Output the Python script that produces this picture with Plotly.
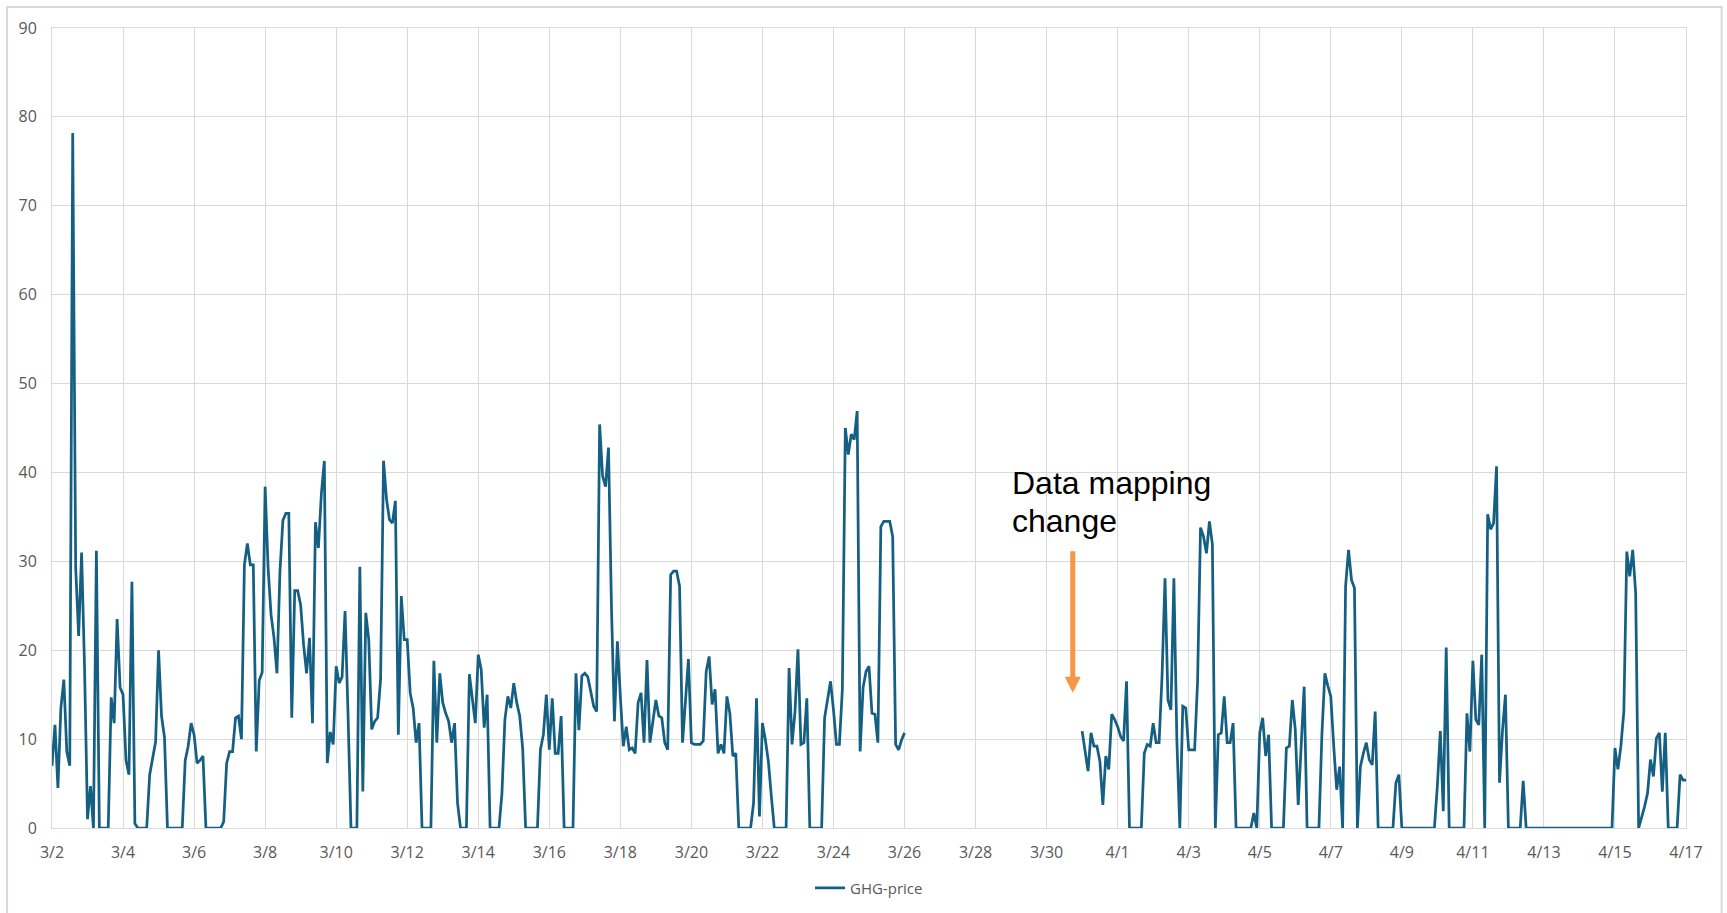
import pandas as pd
import plotly.graph_objects as go

# GHG price, one value every 2 hours
mar02 = [7, 11.6, 4.5, 13.5, 16.7, 8.6, 7, 78.2, 29.3, 21.6, 31, 18]
mar03 = [1, 4.7, 0, 31.2, 0, 0, 0, 0, 14.7, 11.8, 23.5, 15.8]
mar04 = [15, 7.6, 6, 27.7, 0.5, 0, 0, 0, 0, 6, 8, 9.7]
mar05 = [20, 12.6, 10.2, 0, 0, 0, 0, 0, 0, 7.6, 9.2, 11.8]
mar06 = [10.5, 7.3, 7.6, 8.1, 0, 0, 0, 0, 0, 0, 0.7, 7.3]
mar07 = [8.6, 8.6, 12.4, 12.6, 10, 29.6, 32, 29.6, 29.6, 8.6, 16.6, 17.5]
mar08 = [38.4, 29.3, 24, 21.4, 17.4, 28.8, 34.6, 35.4, 35.4, 12.4, 26.7, 26.7]
mar09 = [25.1, 20.6, 17.4, 21.4, 11.8, 34.4, 31.5, 37.6, 41.3, 7.3, 10.8, 9.4]
mar10 = [18.2, 16.3, 17, 24.4, 12.9, 0, 0, 0, 29.4, 4.1, 24.2, 21.2]
mar11 = [11.1, 12, 12.4, 16.7, 41.3, 37, 34.7, 34.3, 36.8, 10.5, 26.1, 21.2]
mar12 = [21.2, 15.2, 13.5, 9.6, 11.8, 0, 0, 0, 0, 18.8, 9.6, 17.4]
mar13 = [14.1, 12.9, 12, 9.6, 11.8, 2.8, 0, 0, 0, 17.3, 14.4, 11.8]
mar14 = [19.5, 17.8, 11.3, 15, 0, 0, 0, 0, 3.9, 12.2, 14.8, 13.5]
mar15 = [16.3, 14.1, 12.6, 9, 0, 0, 0, 0, 0, 8.8, 10.5, 15]
mar16 = [8.8, 14.6, 8.4, 8.4, 12.6, 0, 0, 0, 0, 17.4, 11, 17.1]
mar17 = [17.4, 17, 15.4, 13.7, 13.1, 45.4, 39.6, 38.4, 42.8, 24.8, 12, 21]
mar18 = [14.8, 9.2, 11.4, 8.8, 9, 8.4, 14.1, 15.2, 9.6, 18.9, 9.6, 12.2]
mar19 = [14.4, 12.6, 12.4, 9.6, 8.8, 28.5, 28.9, 28.9, 27.2, 9.6, 13.9, 19]
mar20 = [9.6, 9.4, 9.4, 9.4, 9.8, 17.6, 19.3, 13.9, 15.6, 8.4, 9.4, 8.4]
mar21 = [14.8, 12.9, 8.1, 8.4, 0, 0, 0, 0, 0, 2.8, 14.6, 1.3]
mar22 = [11.8, 9.9, 7.5, 3.6, 0, 0, 0, 0, 0, 18, 9.4, 13.1]
mar23 = [20.1, 9.4, 9.6, 14.6, 0, 0, 0, 0, 0, 12.4, 14.3, 16.5]
mar24 = [13.3, 9.4, 9.4, 15.6, 45, 42, 44.3, 43.7, 46.9, 8.6, 15.8, 17.6]
mar25 = [18.2, 12.9, 12.8, 9.6, 33.9, 34.5, 34.5, 34.5, 32.8, 9.4, 8.8, 9.9, 10.7]  # last one is 3/26 00:00

mar31 = [10.9, 8.6, 6.4, 10.7, 9.2, 9.2, 7.5, 2.6, 8.1, 6.6, 12.8, 12.2]
apr01 = [11.4, 10.3, 9.8, 16.5, 0, 0, 0, 0, 0, 8.4, 9.4, 9.2]
apr02 = [11.8, 9.6, 9.6, 17.1, 28.1, 14.4, 13.3, 28.1, 9.9, 0, 13.7, 13.5]
apr03 = [8.8, 8.8, 8.8, 16.5, 33.8, 32.8, 30.9, 34.5, 31.9, 0, 10.5, 10.7]
apr04 = [14.8, 9.6, 9.6, 11.8, 0, 0, 0, 0, 0, 0, 1.7, 0]
apr05 = [10.7, 12.4, 8.1, 10.5, 0, 0, 0, 0, 0, 9, 9.2, 14.4]
apr06 = [11.1, 2.6, 9.6, 15.9, 0, 0, 0, 0, 0, 10.5, 17.4, 16]
apr07 = [14.8, 9.2, 4.3, 6.9, 0, 27.2, 31.3, 27.9, 27, 0, 6.9, 8.4]
apr08 = [9.6, 7.7, 7.1, 13.1, 0, 0, 0, 0, 0, 0, 5.1, 6]
apr09 = [0, 0, 0, 0, 0, 0, 0, 0, 0, 0, 0, 0]
apr10 = [4.7, 10.9, 1.9, 20.3, 0, 0, 0, 0, 0, 0, 12.9, 8.6]
apr11 = [18.8, 12.2, 11.6, 19.5, 0, 35.3, 33.6, 34.3, 40.7, 5.1, 10.9, 15]
apr12 = [0, 0, 0, 0, 0, 5.3, 0, 0, 0, 0, 0, 0]
apr13 = [0, 0, 0, 0, 0, 0, 0, 0, 0, 0, 0, 0]
apr14 = [0, 0, 0, 0, 0, 0, 0, 0, 0, 0, 0, 0]
apr15 = [9, 6.6, 9.2, 13.1, 31.1, 28.3, 31.3, 26.4, 0, 1.1, 2.4, 3.9]
apr16 = [7.7, 5.8, 10.1, 10.7, 4.1, 10.7, 0, 0, 0, 0, 6, 5.4, 5.4]  # last one is 4/17 00:00

note_lines = ['Data mapping', 'change']

before_days = [mar02, mar03, mar04, mar05, mar06, mar07, mar08, mar09, mar10,
               mar11, mar12, mar13, mar14, mar15, mar16, mar17, mar18, mar19,
               mar20, mar21, mar22, mar23, mar24, mar25]
after_days = [mar31, apr01, apr02, apr03, apr04, apr05, apr06, apr07, apr08,
              apr09, apr10, apr11, apr12, apr13, apr14, apr15, apr16]

before = [v for d in before_days for v in d]
after = [v for d in after_days for v in d]
x_before = pd.date_range('2024-03-02', periods=len(before), freq='2h')
x_after = pd.date_range('2024-03-31', periods=len(after), freq='2h')

# None between the two runs leaves the gap open
x = list(x_before) + [x_before[-1] + pd.Timedelta(hours=1)] + list(x_after)
y = before + [None] + after

LINE = '#156082'
GRID = '#D9D9D9'
TXT = '#595959'
FONT = 'Open Sans, Liberation Sans, sans-serif'

fig = go.Figure()
fig.add_trace(go.Scatter(
    x=x, y=y, mode='lines', name='GHG-price',
    line=dict(color=LINE, width=2.75), connectgaps=False))

# outer chart border
fig.add_shape(type='rect', xref='paper', yref='paper',
              x0=-0.0275, x1=1.0218, y0=-0.12, y1=1.02625,
              line=dict(color=GRID, width=2), layer='below')

# one annotation per line, plotly's own line height is too loose here
for i, line in enumerate(note_lines):
    fig.add_annotation(
        xref='paper', yref='paper', x=0.5865, y=0.4567 - i * 0.048,
        xanchor='left', yanchor='top', align='left', showarrow=False,
        text=line,
        font=dict(family='Liberation Sans, Arial, sans-serif', size=32,
                  color='#000000'))

fig.add_annotation(
    xref='paper', yref='paper', x=0.6247, y=0.169,
    ax=0, ay=-143, text='', showarrow=True,
    arrowhead=2, arrowsize=0.64, arrowwidth=5, arrowcolor='#F79646',
    standoff=0)

fig.update_layout(
    width=1727, height=913,
    margin=dict(l=52, r=41, t=28, b=85, autoexpand=False),
    plot_bgcolor='white', paper_bgcolor='white',
    font=dict(family=FONT, size=15, color=TXT),
    showlegend=True,
    legend=dict(orientation='h', x=0.5, xanchor='center',
                yref='container', y=1 - 888 / 913, yanchor='middle',
                font=dict(size=15, color=TXT)),
    xaxis=dict(
        type='date', range=['2024-03-02', '2024-04-17'],
        tick0='2024-03-02', dtick=2 * 86400000, tickformat='%-m/%-d',
        showgrid=True, gridcolor=GRID, gridwidth=1,
        showline=True, linecolor=GRID, mirror=True, automargin=False,
        zeroline=False, ticks='', ticklabelstandoff=10,
        tickfont=dict(size=16, color=TXT)),
    yaxis=dict(
        range=[0, 90], dtick=10,
        showgrid=True, gridcolor=GRID, gridwidth=1,
        showline=True, linecolor=GRID, mirror=True, automargin=False,
        zeroline=False, ticks='', ticklabelstandoff=11,
        tickfont=dict(size=16, color=TXT)),
)

# page body margin would shift the chart by 8px
fig.write_html('out.html', config={'displayModeBar': False},
               post_script="document.body.style.margin='0';")
